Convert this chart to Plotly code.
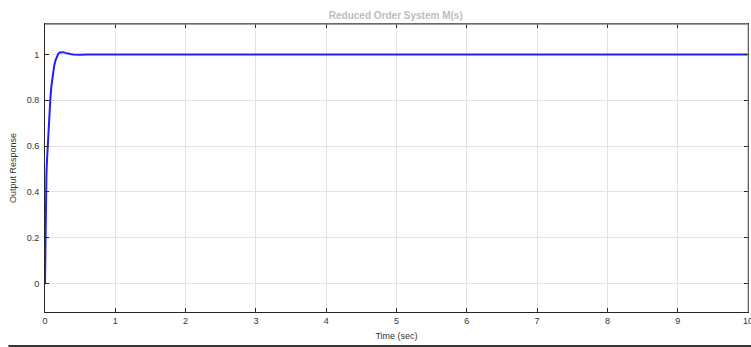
import plotly.graph_objects as go

# Step response
time_s = [0, 0.002, 0.005, 0.009, 0.014, 0.02, 0.027, 0.037, 0.048, 0.06, 0.075,
          0.09, 0.11, 0.13, 0.15, 0.17, 0.19, 0.21, 0.235, 0.26, 0.29, 0.32,
          0.36, 0.4, 0.45, 0.5, 0.6, 0.8, 1, 2, 3, 4, 5, 6, 7, 8, 9, 10]
response = [0, 0.09, 0.2, 0.31, 0.4, 0.47, 0.53, 0.6, 0.67, 0.74, 0.8,
            0.86, 0.91, 0.95, 0.975, 0.993, 1.004, 1.009, 1.011, 1.01, 1.007, 1.004,
            1.002, 1.0, 0.999, 0.999, 1.0, 1.0, 1.0, 1.0, 1.0, 1.0, 1.0, 1.0, 1.0, 1.0, 1.0, 1.0]

x_ticks = [0, 1, 2, 3, 4, 5, 6, 7, 8, 9, 10]
y_ticks = [0, 0.2, 0.4, 0.6, 0.8, 1]
y_tick_text = ["0", "0.2", "0.4", "0.6", "0.8", "1"]

fig = go.Figure()
fig.add_trace(go.Scatter(x=time_s, y=response, mode="lines",
                         line=dict(color="#1f1fff", width=2), showlegend=False))

axis_font = dict(family="Liberation Sans, Arial, sans-serif", size=9, color="#333333")

fig.update_layout(
    width=751, height=347,
    margin=dict(l=45, r=3, t=24, b=35, autoexpand=False),
    paper_bgcolor="white", plot_bgcolor="white",
    title=dict(text="<b>Reduced Order System M(s)</b>", x=0.527, xanchor="center",
               y=0.955, yanchor="middle",
               font=dict(family="Liberation Sans, Arial, sans-serif", size=10, color="#bdbdbd")),
    xaxis=dict(range=[0, 10], tickvals=x_ticks, ticks="inside", ticklen=4,
               tickcolor="#262626", showline=True, linecolor="#262626", linewidth=1,
               mirror="ticks", showgrid=True, gridcolor="#e3e3e3", gridwidth=1,
               zeroline=False, tickfont=axis_font, ticklabeloverflow="allow",
               automargin=False,
               title=dict(text="Time (sec)", font=axis_font, standoff=7)),
    yaxis=dict(range=[-0.125, 1.133], tickvals=y_ticks, ticktext=y_tick_text,
               ticks="inside", ticklen=4, tickcolor="#262626",
               showline=True, linecolor="#262626", linewidth=1, mirror="ticks",
               showgrid=True, gridcolor="#e3e3e3", gridwidth=1, zeroline=False,
               tickfont=axis_font, ticklabelstandoff=3, automargin=False,
               title=dict(text="Output Response", font=axis_font, standoff=8)),
    shapes=[
        dict(type="line", xref="paper", yref="paper", x0=0, x1=1, y0=1, y1=1,
             line=dict(color="#808080", width=1.5)),
        dict(type="line", xref="paper", yref="paper", x0=1, x1=1, y0=0, y1=1,
             line=dict(color="#9a9a9a", width=1)),
        dict(type="line", xref="paper", yref="paper", x0=-0.052, x1=1.01,
             y0=-0.118, y1=-0.118, line=dict(color="#333333", width=2)),
    ],
)

fig.write_html("out.html")
